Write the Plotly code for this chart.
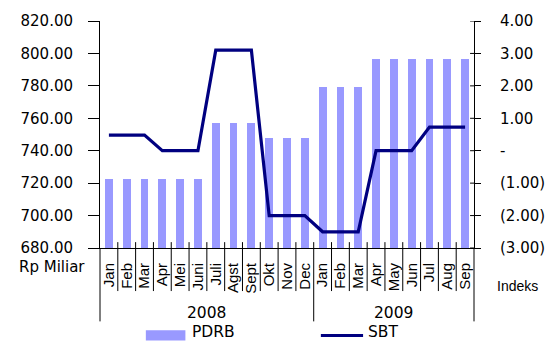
import plotly.graph_objects as go

# Month labels for the two years shown on the category axis
months_2008 = ["Jan", "Feb", "Mar", "Apr", "Mei", "Juni", "Juli", "Agst", "Sept", "Okt", "Nov", "Dec"]
months_2009 = ["Jan", "Feb", "Mar", "Apr", "May", "Jun", "Jul", "Aug", "Sep"]
years = ["2008", "2009"]

# PDRB (Rp Miliar) - bars on the left axis
pdrb = [722.3, 722.3, 722.3, 722.3, 722.3, 722.3,
        757.4, 757.4, 757.4, 747.6, 747.6, 747.6,
        779.1, 779.1, 779.1, 796.6, 796.6, 796.6, 796.6, 796.6, 796.6]

# SBT (Indeks) - line on the right axis
sbt = [0.48, 0.48, 0.48, 0.0, 0.0, 0.0,
       3.1, 3.1, 3.1, -2.0, -2.0, -2.0,
       -2.5, -2.5, -2.5, 0.0, 0.0, 0.0, 0.73, 0.73, 0.73]

left_ticks = [680, 700, 720, 740, 760, 780, 800, 820]
right_ticks = [-3, -2, -1, 0, 1, 2, 3, 4]
right_ticktext = ["(3.00)", "(2.00)", "(1.00)", "-", "1.00", "2.00", "3.00", "4.00"]

labels = months_2008 + months_2009
n = len(labels)
xs = list(range(n))

W, H = 557, 344
ML, MR, MT, MB = 100, 76, 16, 96
plot_w = W - ML - MR
plot_h = H - MT - MB


def py(px):
    """Pixel row -> paper y."""
    return (H - MB - px) / plot_h


def pxx(px):
    """Pixel column -> paper x."""
    return (px - ML) / plot_w


BAR = "#9999FF"
LINE = "#000080"
TXT = "DejaVu Sans"
MON = "Liberation Sans"

fig = go.Figure()
fig.add_trace(go.Bar(x=xs, y=pdrb, width=0.44, marker=dict(color=BAR, line=dict(width=0)),
                     name="PDRB", yaxis="y", showlegend=False))
fig.add_trace(go.Scatter(x=xs, y=sbt, mode="lines", line=dict(color=LINE, width=3.2),
                         name="SBT", yaxis="y2", showlegend=False))

shapes = []
# category boundary ticks below the axis; year boundaries run further down
n08 = len(months_2008)
for k in range(n + 1):
    xp = k / n
    if k in (0, n08, n):
        y0, y1 = (0.0 if k in (0, n) else py(242)), py(323)
    else:
        y0, y1 = py(242), py(292)
    shapes.append(dict(type="line", xref="paper", yref="paper", x0=xp, x1=xp, y0=y0, y1=y1,
                       line=dict(color="black", width=1)))

# inner half of the right-axis ticks
for v in right_ticks:
    shapes.append(dict(type="line", xref="paper", yref="y2", x0=1 - 4 / plot_w, x1=1, y0=v, y1=v,
                       line=dict(color="black", width=1)))

# legend swatches
shapes.append(dict(type="rect", xref="paper", yref="paper", x0=pxx(146.7), x1=pxx(187),
                   y0=py(342.5), y1=py(332), fillcolor=BAR, line=dict(width=0)))
shapes.append(dict(type="line", xref="paper", yref="paper", x0=pxx(325), x1=pxx(368),
                   y0=py(337.5), y1=py(337.5), line=dict(color=LINE, width=3)))

annotations = [
    dict(text="2008", x=(n08 / 2) / n, y=py(314), xref="paper", yref="paper",
         showarrow=False, font=dict(family=TXT, size=15.5, color="black"), xanchor="center", yanchor="middle"),
    dict(text="2009", x=((n08 + n) / 2) / n, y=py(314), xref="paper", yref="paper",
         showarrow=False, font=dict(family=TXT, size=15.5, color="black"), xanchor="center", yanchor="middle"),
    dict(text="Rp Miliar", x=pxx(51.5), y=py(267), xref="paper", yref="paper",
         showarrow=False, font=dict(family=TXT, size=15, color="black"), xanchor="center", yanchor="middle"),
    dict(text="Indeks", x=pxx(502), y=py(287), xref="paper", yref="paper",
         showarrow=False, font=dict(family=MON, size=14, color="black"), xanchor="left", yanchor="middle"),
    dict(text="PDRB", x=pxx(193), y=py(344), xref="paper", yref="paper",
         showarrow=False, font=dict(family=TXT, size=15.5, color="black"), xanchor="left", yanchor="bottom",
         borderpad=0),
    dict(text="SBT", x=pxx(372), y=py(344), xref="paper", yref="paper",
         showarrow=False, font=dict(family=TXT, size=15.5, color="black"), xanchor="left", yanchor="bottom",
         borderpad=0),
]

fig.update_layout(
    width=W, height=H,
    margin=dict(l=ML, r=MR, t=MT, b=MB, pad=0),
    paper_bgcolor="white", plot_bgcolor="white",
    bargap=0,
    xaxis=dict(range=[-0.5, n - 0.5], tickmode="array", tickvals=xs, ticktext=labels,
               tickangle=-90, ticks="", showgrid=False, zeroline=False,
               showline=True, linecolor="black", linewidth=1,
               tickfont=dict(family=MON, size=15, color="black"), ticklabelstandoff=8),
    yaxis=dict(range=[680, 820], tickmode="array", tickvals=left_ticks,
               tickformat=".2f", ticks="outside", ticklen=11, tickcolor="black",
               showline=True, linecolor="black", linewidth=1, showgrid=False, zeroline=False,
               tickfont=dict(family=TXT, size=15, color="black"), ticklabelstandoff=12),
    yaxis2=dict(range=[-3, 4], overlaying="y", side="right", tickmode="array",
                tickvals=right_ticks, ticktext=right_ticktext,
                ticks="outside", ticklen=6, tickcolor="black",
                showline=True, linecolor="black", linewidth=1, showgrid=False, zeroline=False,
                tickfont=dict(family=TXT, size=15, color="black"), ticklabelstandoff=16),
    shapes=shapes,
    annotations=annotations,
    showlegend=False,
)

fig.write_html("out.html")
